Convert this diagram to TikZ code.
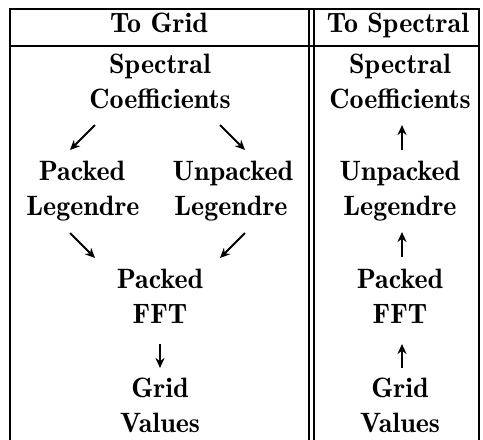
\documentclass[tikz,border=0pt]{standalone}
\usepackage{tikz}
\usetikzlibrary{arrows.meta}

\begin{document}
\begin{tikzpicture}[
			x=0.5pt, y=-0.5pt,
			lbl/.style={anchor=base, inner sep=0pt, font=\fontsize{14}{16}\fontseries{b}\selectfont},
			rule/.style={line width=1.1pt},
			arr/.style={line width=0.9pt, -{Stealth[length=5pt,width=4.5pt]}},
			]
			\useasboundingbox (0,0) rectangle (483,440);
			
			%% ── table rules ─────────────────────────────────────────────
			\draw[rule] (10,440) -- (10,9) -- (479,9) -- (479,440);
			\draw[rule] (10,46) -- (479,46);
			\draw[rule] (309,9) -- (309,440);
			\draw[rule] (314,9) -- (314,440);
			
			%% ── headers ─────────────────────────────────────────────────
			\node[lbl] (hgrid) at (159,32) {To Grid};
			\node[lbl] (hspec) at (398,32) {To Spectral};
			
			%% ── left column ─────────────────────────────────────────────
			\node[lbl] (lspec)    at (160,73)  {Spectral};
			\node[lbl] (lcoef)    at (160,108) {Coefficients};
			\node[lbl] (lpk)      at (82,180)  {Packed};
			\node[lbl] (lpkleg)   at (83,215)  {Legendre};
			\node[lbl] (lunp)     at (233,180) {Unpacked};
			\node[lbl] (lunpleg)  at (231,215) {Legendre};
			\node[lbl] (lfftpk)   at (160,288) {Packed};
			\node[lbl] (lfft)     at (160,323) {FFT};
			\node[lbl] (lgrid)    at (160,397) {Grid};
			\node[lbl] (lval)     at (160,432) {Values};
			
			%% ── right column ────────────────────────────────────────────
			\node[lbl] (rspec)    at (400,73)  {Spectral};
			\node[lbl] (rcoef)    at (400,108) {Coefficients};
			\node[lbl] (runp)     at (400,180) {Unpacked};
			\node[lbl] (rleg)     at (400,215) {Legendre};
			\node[lbl] (rpk)      at (400,288) {Packed};
			\node[lbl] (rfft)     at (400,323) {FFT};
			\node[lbl] (rgrid)    at (400,397) {Grid};
			\node[lbl] (rval)     at (400,432) {Values};
			
			%% ── arrow ends ──────────────────────────────────────────────
			\coordinate (ga1) at (95,125);  \coordinate (gb1) at (70,150);
			\coordinate (ga2) at (220,125); \coordinate (gb2) at (245,150);
			\coordinate (ga3) at (70,233);  \coordinate (gb3) at (95,258);
			\coordinate (ga4) at (245,233); \coordinate (gb4) at (220,258);
			\coordinate (ga5) at (160,344); \coordinate (gb5) at (160,368);
			\coordinate (sa1) at (402,150); \coordinate (sb1) at (402,125);
			\coordinate (sa2) at (402,257); \coordinate (sb2) at (402,232);
			\coordinate (sa3) at (402,368); \coordinate (sb3) at (402,344);
			
			\foreach \i in {1,...,5}
			\draw[arr] (ga\i) -- (gb\i);
			\foreach \i in {1,2,3}
			\draw[arr] (sa\i) -- (sb\i);
			
		\end{tikzpicture}
\end{document}
